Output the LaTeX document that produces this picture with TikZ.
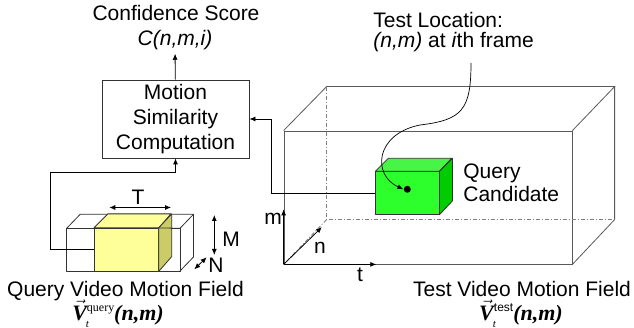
\documentclass[tikz,border=0pt]{standalone}
\usepackage{fontspec}
\setmainfont{Liberation Sans}
\newfontfamily\timesfont{Liberation Serif}
\usetikzlibrary{arrows.meta}

\definecolor{qyellow}{RGB}{255,255,153}
\definecolor{qolive}{RGB}{204,204,102}
\definecolor{cfront}{RGB}{45,255,45}
\definecolor{ctop}{RGB}{70,245,70}
\definecolor{cside}{RGB}{0,204,0}

\newcommand{\fieldsym}[1]{{\timesfont\bfseries\itshape
  $\vec{\hbox{V}}$\kern-1pt\rlap{\raisebox{-7pt}{\mdseries\fontsize{11}{11}\selectfont t}}\kern1pt\raisebox{9pt}{#1}(n,m)}}

\begin{document}
\begin{tikzpicture}[x=1pt, y=-1pt, line width=0.8pt, font=\fontsize{21}{25}\selectfont,
  arrow/.style={->, >={Latex[length=6pt,width=5pt]}},
  dimarrow/.style={<->, >={Latex[length=6pt,width=5pt]}},
  face/.style={draw=black!80, line join=round},
  edge/.style={draw=black!65},
  hidden/.style={black!50, dash pattern=on 4pt off 2pt on 1pt off 2pt},
  lbl/.style={inner sep=3pt, anchor=base},
  sym/.style={inner sep=0pt, anchor=base, font=\fontsize{22}{26}\selectfont}]
	\useasboundingbox (0,0) rectangle (634,328);

	% similarity block
	\node[draw=black!80, minimum width=147pt, minimum height=78pt, align=center, inner sep=0pt] (sim) at (175.5,119) {Motion\\Similarity\\Computation};
	\node[lbl] (score) at (176,21) {Confidence Score};
	\node[lbl] (scoreval) at (175,46) {\itshape C(n,m,i)};
	\draw[arrow] (sim) -- (scoreval);

	% query motion field
	\draw[face] (66.7,228.3) rectangle (180,271);
	\draw[face] (66.7,228.3) -- ++(13.5,-14) -- (193.5,214.3) -- (180,228.3)
	            (193.5,214.3) -- ++(0,42.7) -- (180,271);
	\node[face, fill=qyellow, minimum width=64pt, minimum height=42.7pt, inner sep=0pt] (qblock) at (126.3,249.65) {};
	\filldraw[face, fill=qyellow] (qblock.north west) -- ++(14,-14) -- ++(63,0) -- (qblock.north east) -- cycle;
	\filldraw[face, fill=qolive] (qblock.north east) -- ++(13,-14) -- ++(0,42.7) -- (qblock.south east) -- cycle;
	\draw[face] (qblock.north east) -- (180,228.3);

	\draw[dimarrow] (109.3,207.5) -- (171,207.5);
	\node[lbl] (labT) at (138,204.5) {T};
	\draw[dimarrow] (214.3,215) -- (214.3,255);
	\node[lbl] (labM) at (231,246.5) {M};
	\draw[dimarrow] (194.3,269.3) -- (206.7,257.3);
	\node[lbl] (labN) at (216,273) {N};

	\node[lbl, inner sep=0pt] (qcap) at (125.5,296.5) {Query Video Motion Field};
	\node[sym] (qsym) at (118,320) {\fieldsym{\timesfont\mdseries\upshape\fontsize{12}{12}\selectfont query}};

	\coordinate (qbend) at (50,172.7);
	\draw[arrow] (qblock.west) -| (qbend) -| (sim.south);

	% test motion field
	\node[edge, minimum width=288pt, minimum height=133pt, inner sep=0pt] (tbox) at (428,197.5) {};
	\draw[edge] (tbox.north west) -- ++(43,-44) coordinate (tbl) -- ++(288,0) coordinate (tbr) -- (tbox.north east);
	\draw[edge] (tbr) -- ++(0,133) coordinate (tbrb) -- (tbox.south east);
	\draw[hidden] (tbl) -- ++(0,133) coordinate (tblb) -- (tbrb);
	\draw[hidden] (tblb) -- (tbox.south west);

	\draw[arrow] (tbox.south west) -- ++(0,-55);
	\draw[arrow] (tbox.south west) -- ++(92.7,0);
	\draw[arrow] (tbox.south west) -- ++(38.3,-37.3);
	\node[lbl] (labm) at (273,225) {m};
	\node[lbl] (labn) at (320,254) {n};
	\node[lbl] (labt) at (360,281.7) {t};

	\node[face, fill=cfront, minimum width=63.3pt, minimum height=42.6pt, inner sep=0pt] (cand) at (407.4,193) {};
	\filldraw[face, fill=ctop] (cand.north west) -- ++(13,-13) -- ++(63.3,0) -- (cand.north east) -- cycle;
	\filldraw[face, fill=cside] (cand.north east) -- ++(13,-13) -- ++(0,42.6) -- (cand.south east) -- cycle;
	\node[circle, fill, inner sep=0pt, minimum size=7pt] (dot) at (407.3,189.3) {};
	\node[inner sep=0pt, anchor=north west, align=left, font=\fontsize{21}{23.5}\selectfont] (candlab) at (463,163) {Query\\Candidate};

	\node[lbl, inner sep=0pt] (tcap) at (522,296.5) {Test Video Motion Field};
	\node[sym] (tsym) at (521,320) {\fieldsym{\normalfont\fontsize{12}{12}\selectfont test}};

	\coordinate (ctap) at (271,193);
	\draw[arrow] (cand.west) -- (ctap) |- (sim.east);

	% test location pointer
	\node[inner sep=0pt, anchor=north west, align=left, font=\fontsize{21}{20}\selectfont] (loc) at (373,12.3) {Test Location:\\\textit{(n,m)} at \textit{i}th frame};
	\coordinate (locfoot) at (471,63);
	\draw[arrow, line width=0.7pt] (locfoot) .. controls (471,110) and (462,120) .. (420,125) .. controls (375,134) and (372,175) .. (dot.west);
\end{tikzpicture}
\end{document}
